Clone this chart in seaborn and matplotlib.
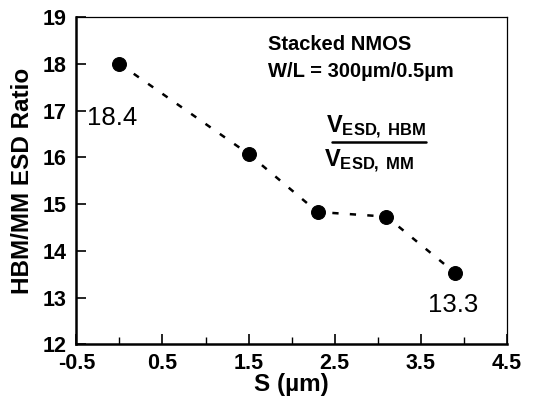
import numpy as np
import pandas as pd
import matplotlib
matplotlib.use("Agg")
import matplotlib.pyplot as plt
import seaborn as sns

# data
spacing = [0.0, 1.5, 2.3, 3.1, 3.9]
ratio = [18.0, 16.07, 14.83, 14.73, 13.52]
x_ticks = [-0.5, 0.5, 1.5, 2.5, 3.5, 4.5]
y_ticks = [12, 13, 14, 15, 16, 17, 18, 19]
point_labels = ["18.4", "13.3"]

sns.set_style("ticks")
plt.rcParams['font.family'] = ['Liberation Sans', 'DejaVu Sans']
plt.rcParams['axes.unicode_minus'] = False
plt.rcParams['mathtext.fontset'] = 'custom'
plt.rcParams['mathtext.rm'] = 'Liberation Sans'
plt.rcParams['mathtext.bf'] = 'Liberation Sans:bold'
plt.rcParams['mathtext.it'] = 'Liberation Sans:italic'
for key in ['text.color', 'axes.labelcolor', 'xtick.color', 'ytick.color', 'axes.edgecolor']:
    plt.rcParams[key] = 'black'

df = pd.DataFrame({"S": spacing, "ratio": ratio})

fig, ax = plt.subplots(figsize=(5.53, 4.05), dpi=100)
fig.subplots_adjust(left=0.138, right=0.917, top=0.958, bottom=0.150)

sns.lineplot(data=df, x="S", y="ratio", ax=ax, color="black",
             linestyle=(0, (2.5, 4.5)), linewidth=1.8,
             marker="o", markersize=10, markeredgecolor="black")

ax.set_xlim(-0.5, 4.5)
ax.set_ylim(12, 19)
ax.set_xticks(x_ticks)
ax.set_xticks([0, 1, 2, 3, 4], minor=True)
ax.set_yticks(y_ticks)
ax.tick_params(direction="in", length=7, width=1.2, labelsize=15.5)
ax.tick_params(axis="x", pad=6.5)
ax.tick_params(axis="y", pad=7)
ax.tick_params(which="minor", direction="in", length=5, width=1.0)
for t in ax.get_xticklabels() + ax.get_yticklabels():
    t.set_fontweight("bold")

ax.set_xlabel("S (µm)", fontsize=17.5, fontweight="bold", labelpad=-1)
ax.set_ylabel("HBM/MM ESD Ratio", fontsize=17.5, fontweight="bold", labelpad=6)

for side in ["left", "bottom"]:
    ax.spines[side].set_linewidth(1.8)
for side in ["top", "right"]:
    ax.spines[side].set_linewidth(0.9)

# point annotations
ax.text(spacing[0] - 0.08, 16.85, point_labels[0], fontsize=18.5,
        ha="center", va="center")
ax.text(spacing[-1] - 0.03, 12.83, point_labels[1], fontsize=18.5,
        ha="center", va="center")

ax.text(1.72, 18.42, "Stacked NMOS", fontsize=14.5, fontweight="bold",
        ha="left", va="center")
ax.text(1.72, 17.84, "W/L = 300µm/0.5µm", fontsize=14.5, fontweight="bold",
        ha="left", va="center")

# fraction V_ESD,HBM / V_ESD,MM
ax.text(2.98, 16.64, r"$\mathbf{V_{ESD,\ HBM}}$", fontsize=17,
        ha="center", va="center")
ax.plot([2.47, 3.56], [16.33, 16.33], color="black", linewidth=1.8)
ax.text(2.9, 15.9, r"$\mathbf{V_{ESD,\ MM}}$", fontsize=17,
        ha="center", va="center")

fig.savefig("out.png", dpi=100)
